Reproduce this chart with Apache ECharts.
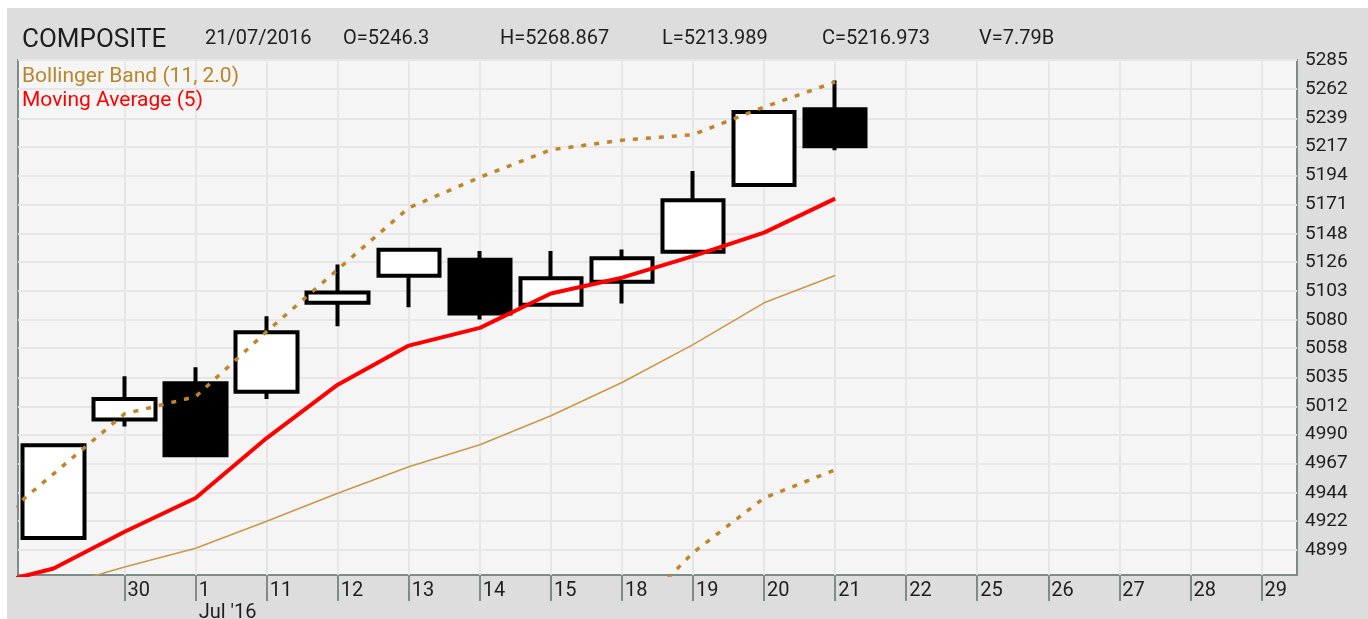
<!DOCTYPE html>
<html>
<head>
<meta charset="utf-8">
<script src="https://cdn.jsdelivr.net/npm/echarts@6/dist/echarts.min.js"></script>
<style>
  html, body { margin: 0; padding: 0; background: #ffffff; }
  #chart { width: 1368px; height: 619px; }
</style>
</head>
<body>
<div id="chart"></div>
<script>
// ---- categories (index 0 is a hidden earlier session, scrolled out of view) ----
var dates = ['2016-06-28','2016-06-29','2016-06-30','2016-07-01','2016-07-11','2016-07-12','2016-07-13',
             '2016-07-14','2016-07-15','2016-07-18','2016-07-19','2016-07-20','2016-07-21','2016-07-22',
             '2016-07-25','2016-07-26','2016-07-27','2016-07-28','2016-07-29'];
var xLabels = ['', '', '30', '1', '11', '12', '13', '14', '15', '18', '19', '20', '21', '22', '25', '26', '27', '28', '29'];
var monthLabels = ['', '', '', "Jul '16", '', '', '', '', '', '', '', '', '', '', '', '', '', '', ''];

// ---- OHLC ----
var opens  = ['-', 4908.5, 5001.8, 5030.3, 5023.7, 5093.7, 5115.0, 5127.7, 5092.1, 5110.3, 5134.0, 5186.5, 5246.3];
var closes = ['-', 4981.6, 5017.9, 4973.7, 5070.5, 5101.9, 5135.6, 5085.3, 5113.1, 5128.9, 5174.5, 5244.0, 5216.973];
var lows   = ['-', 4908.5, 4996.3, 4973.7, 5018.0, 5075.3, 5090.3, 5080.5, 5092.1, 5093.2, 5134.0, 5186.5, 5213.989];
var highs  = ['-', 4981.6, 5035.8, 5042.9, 5083.2, 5124.0, 5135.6, 5134.5, 5134.5, 5135.8, 5197.6, 5244.0, 5268.867];

// ---- indicators ----
var ma5      = [4870.0, 4884.4, 4913.4, 4940.0, 4987.2, 5029.2, 5060.0, 5074.0, 5101.1, 5113.5, 5130.5, 5149.0, 5175.8];
var bbUpper  = [4911.9, 4959.0, 5006.3, 5019.8, 5071.1, 5120.0, 5168.6, 5192.6, 5214.3, 5221.8, 5226.2, 5247.9, 5267.6];
var bbMiddle = [4852.0, 4869.3, 4885.6, 4900.3, 4921.6, 4943.7, 4964.5, 4981.9, 5004.8, 5031.0, 5060.8, 5093.7, 5115.3];
var bbLower  = [4792.0, 4779.6, 4764.9, 4780.8, 4772.1, 4767.4, 4760.4, 4771.2, 4795.3, 4840.2, 4896.9, 4940.0, 4962.1];

// ---- y axis ticks ----
var yTicks = [4899, 4922, 4944, 4967, 4990, 5012, 5035, 5058, 5080, 5103, 5126, 5148, 5171, 5194, 5217, 5239, 5262, 5285];
var yMin = 4879.3, yMax = 5285;

// ---- header ----
var headerItems = [
  { text: '21/07/2016', x: 205 },
  { text: 'O=5246.3', x: 343 },
  { text: 'H=5268.867', x: 500 },
  { text: 'L=5213.989', x: 662 },
  { text: 'C=5216.973', x: 822 },
  { text: 'V=7.79B', x: 979 }
];

var candleData = opens.map(function (o, i) { return [o, closes[i], lows[i], highs[i]]; });
var gridLineData = [];
xLabels.forEach(function (l, i) { if (l !== '') gridLineData.push({ xAxis: dates[i] }); });

var FONT = 'Roboto, "Liberation Sans", sans-serif';
var BORDER = '#7d8b8b';
var TAN_DOT = '#c08528';

var graphics = [
  { type: 'rect', z: -100, silent: true, shape: { x: 7, y: 8, width: 1361, height: 611 }, style: { fill: '#dddddd' } },
  { type: 'text', z: 100, x: 22, y: 40, style: { text: 'COMPOSITE', font: '26px ' + FONT, fill: '#1e1e1e', verticalAlign: 'middle' } },
  { type: 'text', z: 100, x: 22, y: 77, style: { text: 'Bollinger Band (11, 2.0)', font: '21px ' + FONT, fill: '#b8862b', verticalAlign: 'middle' } },
  { type: 'text', z: 100, x: 22, y: 101, style: { text: 'Moving Average (5)', font: '21px ' + FONT, fill: '#ff0000', verticalAlign: 'middle' } }
];
headerItems.forEach(function (h) {
  graphics.push({ type: 'text', z: 100, x: h.x, y: 39, style: { text: h.text, font: '20px ' + FONT, fill: '#1e1e1e', verticalAlign: 'middle' } });
});

var chart = echarts.init(document.getElementById('chart'), null, { renderer: 'canvas' });
chart.setOption({
  animation: false,
  backgroundColor: '#ffffff',
  graphic: graphics,
  grid: {
    left: 18, top: 60, width: 1279, height: 515,
    outerBoundsMode: 'none', containLabel: false,
    show: true, backgroundColor: '#f5f5f5', borderColor: BORDER, borderWidth: 2
  },
  xAxis: {
    type: 'category',
    data: dates,
    min: 1,
    boundaryGap: true,
    axisLine: { show: false },
    axisTick: {
      show: true, alignWithLabel: true, length: 26,
      lineStyle: { color: BORDER, width: 2 },
      interval: function (i, v) { return xLabels[dates.indexOf(v)] !== ''; }
    },
    axisLabel: {
      interval: 0, align: 'left', margin: 5, padding: [0, 0, 0, 3],
      fontFamily: FONT, fontSize: 20, lineHeight: 22, color: '#1e1e1e',
      formatter: function (v) {
        var i = dates.indexOf(v);
        var s = xLabels[i];
        if (monthLabels[i]) s += '\n' + monthLabels[i];
        return s;
      }
    },
    splitLine: { show: false }
  },
  yAxis: {
    type: 'value',
    position: 'right',
    min: yMin, max: yMax,
    scale: true,
    axisLine: { show: false },
    axisTick: { show: false, customValues: yTicks },
    axisLabel: {
      customValues: yTicks, margin: 8, padding: [0, 0, 5, 0],
      fontFamily: FONT, fontSize: 19, color: '#1e1e1e',
      formatter: function (v) { return String(Math.round(v)); }
    },
    splitLine: { show: true, lineStyle: { color: '#e6e6e6', width: 2 } }
  },
  series: [
    {
      name: 'grid', type: 'line', z: 1, data: [], silent: true,
      markLine: {
        z: 1, silent: true, symbol: ['none', 'none'], animation: false,
        label: { show: false },
        lineStyle: { color: '#e6e6e6', width: 2, type: 'solid' },
        emphasis: { disabled: true },
        data: gridLineData
      }
    },
    {
      name: 'COMPOSITE', type: 'candlestick', z: 2,
      data: candleData,
      barWidth: 62,
      itemStyle: { color: '#ffffff', color0: '#000000', borderColor: '#000000', borderColor0: '#000000', borderWidth: 4 },
      emphasis: { disabled: true }
    },
    {
      name: 'BB Middle', type: 'line', z: 3, data: bbMiddle, symbol: 'none', silent: true,
      lineStyle: { color: '#c9994a', width: 1.6 }
    },
    {
      name: 'BB Upper', type: 'line', z: 3, data: bbUpper, symbol: 'none', silent: true,
      lineStyle: { color: TAN_DOT, width: 3.5, type: [5, 8], cap: 'butt' }
    },
    {
      name: 'BB Lower', type: 'line', z: 3, data: bbLower, symbol: 'none', silent: true,
      lineStyle: { color: TAN_DOT, width: 3.5, type: [5, 8], cap: 'butt' }
    },
    {
      name: 'MA 5', type: 'line', z: 4, data: ma5, symbol: 'none', silent: true,
      lineStyle: { color: '#ff0000', width: 4 }
    }
  ]
});
</script>
</body>
</html>
